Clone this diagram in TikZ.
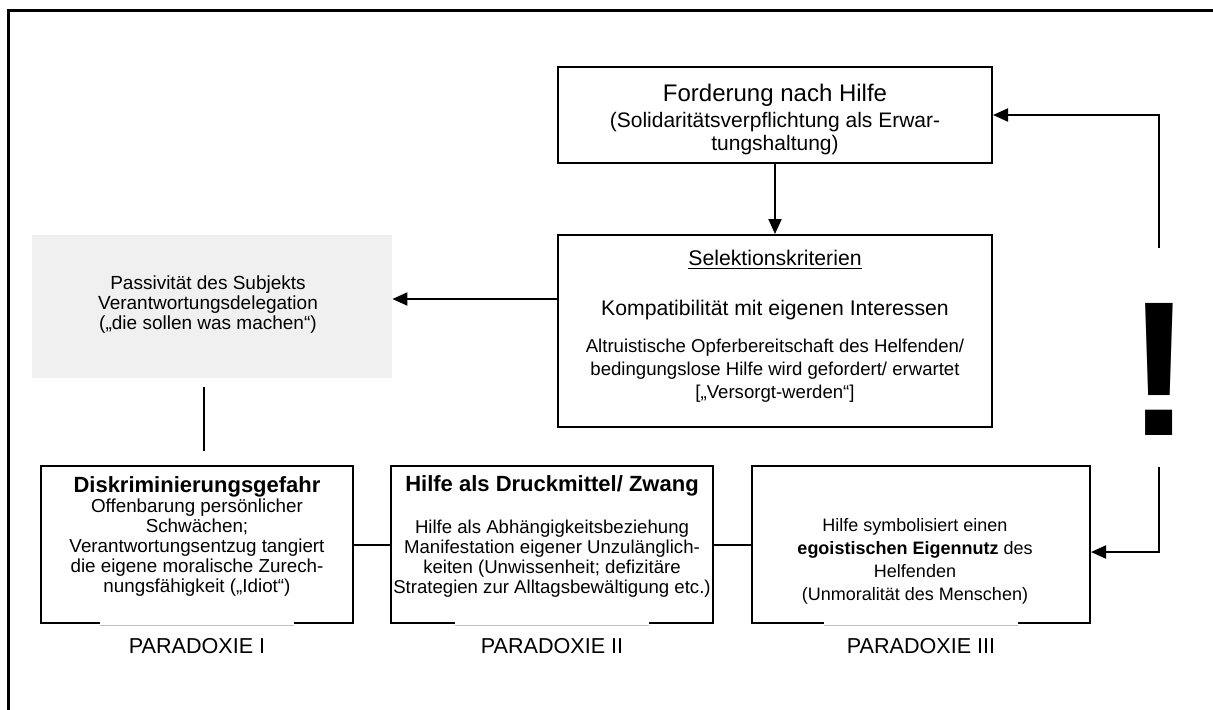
\documentclass[tikz,border=0pt]{standalone}
\usepackage{fontspec}
\setmainfont{Liberation Sans}
\usetikzlibrary{arrows.meta,fit,calc}

\begin{document}
\begin{tikzpicture}[x=0.5pt,y=-0.5pt,
  box/.style={draw, line width=1pt, inner sep=0pt, align=center},
  greybox/.style={fill=gray!12, inner sep=0pt},
  txt/.style={align=center, inner sep=0pt},
  arr/.style={line width=1pt, -{Triangle[length=7.5pt,width=6.5pt]}},
  link/.style={line width=1pt},
  lbl/.style={font=\fontsize{10.8}{12}\selectfont, inner sep=0pt},
  gapwhite/.style={white, line width=1.6pt},
  gapgrey/.style={gray!50, line width=0.5pt}]
\useasboundingbox (0,0) rectangle (1213,709);

% outer frame (only its left and top edges fall on the page)
\begin{scope}
  \clip (0,0) rectangle (1213,709);
  \draw[line width=1.5pt] (8,740) -- (8,10) -- (1240,10);
\end{scope}

% top boxes
\node[box, fit={(558,67) (992,163)}] (forder) {};
\node[txt, font=\fontsize{10.5}{11.3}\selectfont] (forder-t) at ($(forder.center)+(0,4.5)$)
  {{\fontsize{12}{14}\selectfont Forderung nach Hilfe}\\[1.5pt]
   (Solidaritätsverpflichtung als Erwar-\\tungshaltung)};

\node[box, fit={(558,235) (992,427)}] (selekt) {};
\node[txt, font=\fontsize{9.3}{11.5}\selectfont] (selekt-t) at ($(selekt.center)+(0,-5)$)
  {{\fontsize{10.6}{13}\selectfont\underline{Selektionskriterien}}\\[13.5pt]
   {\fontsize{10.6}{13}\selectfont Kompatibilität mit eigenen Interessen}\\[7pt]
   Altruistische Opferbereitschaft des Helfenden/\\
   bedingungslose Hilfe wird gefordert/ erwartet\\
   \mbox{[„Versorgt-werden“]}};

\node[greybox, fit={(32,235) (392,378)}] (grey) {};
\node[txt, font=\fontsize{9.5}{10}\selectfont] (grey-t) at (208,305)
  {Passivität des Subjekts\\ Verantwortungsdelegation\\ („die sollen was machen“)};

% the three paradoxes
\node[box, fit={(41,466) (353,623)}, font=\fontsize{9.4}{10}\selectfont] (p1)
  {{\fontsize{11}{12}\selectfont\bfseries Diskriminierungsgefahr}\\
   Offenbarung persönlicher\\ Schwächen;\\ Verantwortungsentzug tangiert\\
   die eigene moralische Zurech-\\ nungsfähigkeit („Idiot“)};

\node[box, fit={(391,466) (713,623)}, font=\fontsize{9.3}{10}\selectfont] (p2)
  {{\fontsize{11}{12}\selectfont\bfseries Hilfe als Druckmittel/ Zwang}\\[11pt]
   Hilfe als Abhängigkeitsbeziehung\\ Manifestation eigener Unzulänglich-\\
   keiten (Unwissenheit; defizitäre\\ Strategien zur Alltagsbewältigung etc.)};

\node[box, fit={(752,466) (1090,623)}] (p3) {};
\node[txt, font=\fontsize{9}{11.5}\selectfont] (p3-t) at (915,561)
  {Hilfe symbolisiert einen\\ \textbf{egoistischen Eigennutz} des\\ Helfenden\\
   (Unmoralität des Menschen)};

% light segment in the middle of each lower edge
\foreach \p in {p1,p2,p3} {
  \draw[gapwhite] ($(\p.south)+(-97,0)$) -- ($(\p.south)+(97,0)$);
  \draw[gapgrey] ($(\p.south)+(-97,1)$) -- ($(\p.south)+(97,1)$);
}

\node[lbl] (l1) at ($(p1.south)+(0,22)$) {PARADOXIE I};
\node[lbl] (l2) at ($(p2.south)+(0,22)$) {PARADOXIE II};
\node[lbl] (l3) at ($(p3.south)+(0,22)$) {PARADOXIE III};

% connectors
\coordinate (ya) at (0,299);
\coordinate (xv) at (204,0);
\draw[arr] (forder.south) -- (selekt.north);
\draw[arr] (selekt.west |- ya) -- (grey.east |- ya);
\draw[link, shorten <=4.5pt, shorten >=7pt] (grey.south -| xv) -- (p1.north -| xv);
\draw[link] (p1.east) -- (p2.west);
\draw[link] (p2.east) -- (p3.west);

% feedback loop with the exclamation mark
\node[font=\fontsize{96}{96}\selectfont\bfseries, inner sep=0pt] (bang) at (1159,369) {!};
\coordinate (fa) at (1159,248);
\coordinate (fb) at (1159,467);
\coordinate (fc) at (1159,552);
\draw[arr] (fa) |- (forder.east);
\draw[arr] (fb) -- (fc) -- (fc -| p3.east);
\end{tikzpicture}
\end{document}
